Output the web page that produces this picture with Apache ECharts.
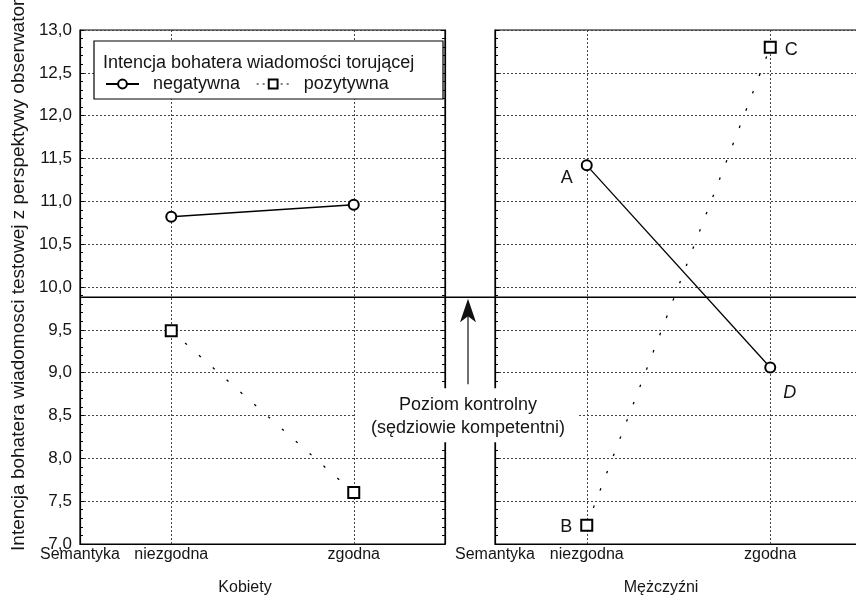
<!DOCTYPE html>
<html><head><meta charset="utf-8">
<script src="https://cdn.jsdelivr.net/npm/echarts@6/dist/echarts.min.js"></script>
<style>html,body{margin:0;padding:0;background:#fff}#c{width:856px;height:596px}</style>
</head><body><div id="c"></div>
<script>
// ---- data ----
const categories = ['niezgodna', 'zgodna'];
const axisStartLabel = 'Semantyka';
const panelNames = ['Kobiety', 'Mężczyźni'];
const seriesNames = ['negatywna', 'pozytywna'];
const legendTitle = 'Intencja bohatera wiadomości torującej';
const kobietyNegatywna = [10.82, 10.96];
const kobietyPozytywna = [9.49, 7.60];
const mezczyzniNegatywna = [11.42, 9.06];
const mezczyzniPozytywna = [7.22, 12.80];
const mezczyzniNegLabels = ['A', 'D'];
const mezczyzniPozLabels = ['B', 'C'];
const controlLevel = 9.88;
const controlLabel = ['Poziom kontrolny', '(sędziowie kompetentni)'];
const yTitle = 'Intencja bohatera wiadomosci testowej z perspektywy obserwatora';
const yMin = 7, yMax = 13, yStep = 0.5;

// ---- chart ----
const FONT = '"Liberation Sans", Arial, sans-serif';
const TXT = '#151515';
const xSlots = [axisStartLabel, categories[0], 'mid', categories[1], 'end'];
const gridLine = { color: '#444', width: 1, type: [2, 2] };

function xAxisFor(gi, name) {
  return {
    gridIndex: gi, type: 'category', data: xSlots, boundaryGap: false,
    axisLine: { lineStyle: { color: '#000', width: 1.2 } },
    axisTick: { show: false },
    axisLabel: { interval: 0, margin: 3, fontSize: 16, fontFamily: FONT, color: TXT,
      formatter: v => (v === 'mid' || v === 'end') ? '' : v },
    splitLine: { show: true, interval: (i, v) => categories.includes(v), lineStyle: gridLine },
    name: name, nameLocation: 'middle', nameGap: 36,
    nameTextStyle: { fontSize: 16, fontFamily: FONT, color: TXT, padding: [0, 35, 0, 0] }
  };
}
function yAxisFor(gi, pos, labels, split) {
  return {
    gridIndex: gi, type: 'value', position: pos, min: yMin, max: yMax, interval: yStep,
    axisLine: { show: true, lineStyle: { color: '#000', width: 1.2 } },
    axisTick: { show: true, inside: true, length: 4, lineStyle: { color: '#000' } },
    minorTick: { show: true, splitNumber: 5, length: 3, lineStyle: { color: '#000' } },
    axisLabel: { show: labels, margin: 8, fontSize: 17, fontFamily: FONT, color: TXT,
      formatter: v => v.toFixed(1).replace('.', ',') },
    splitLine: { show: split, lineStyle: gridLine }
  };
}
function pts(vals) { return categories.map((c, i) => [c, vals[i]]); }
function labeled(vals, labels, placements) {
  return categories.map((c, i) => ({
    value: [c, vals[i]],
    label: Object.assign({ show: true, formatter: labels[i], fontSize: 18, fontFamily: FONT, color: TXT }, placements[i])
  }));
}
const negStyle = {
  type: 'line', symbol: 'emptyCircle', symbolSize: 10,
  itemStyle: { color: '#000', borderWidth: 1.2 },
  lineStyle: { color: '#000', width: 1.3, type: 'solid' }, z: 3
};
const pozStyle = {
  type: 'line', symbol: 'emptyRect', symbolSize: 11,
  itemStyle: { color: '#000', borderWidth: 1.2 },
  lineStyle: { color: '#000', width: 1.3, type: [2.5, 16] }, z: 3
};

const chart = echarts.init(document.getElementById('c'), null, { renderer: 'canvas' });
chart.setOption({
  backgroundColor: '#fff',
  animation: false,
  grid: [
    { left: 80, top: 30, width: 365, height: 514, show: true, borderColor: '#000', borderWidth: 1.2, outerBoundsMode: 'none' },
    { left: 495, top: 30, width: 367, height: 514, show: true, borderColor: '#000', borderWidth: 1.2, outerBoundsMode: 'none' },
    { left: 80, top: 30, right: 0, height: 514, outerBoundsMode: 'none' }
  ],
  xAxis: [
    xAxisFor(0, panelNames[0]),
    xAxisFor(1, panelNames[1]),
    { gridIndex: 2, type: 'value', min: 0, max: 1, show: false }
  ],
  yAxis: [
    yAxisFor(0, 'left', true, true),
    yAxisFor(0, 'right', false, false),
    yAxisFor(1, 'left', false, true),
    { gridIndex: 2, type: 'value', min: yMin, max: yMax, show: false }
  ],
  legend: {
    data: [
      { name: seriesNames[0] },
      { name: seriesNames[1], lineStyle: { type: [2, 4], width: 1.2 } }
    ],
    left: 100, top: 70, z: 8, itemWidth: 33, itemHeight: 11, itemGap: 16,
    textStyle: { fontSize: 18, fontFamily: FONT, color: TXT, padding: [0, 0, 0, 9] }
  },
  series: [
    Object.assign({ name: seriesNames[0], xAxisIndex: 0, yAxisIndex: 0, data: pts(kobietyNegatywna) }, negStyle),
    Object.assign({ name: seriesNames[1], xAxisIndex: 0, yAxisIndex: 0, data: pts(kobietyPozytywna) }, pozStyle),
    Object.assign({ name: seriesNames[0], xAxisIndex: 1, yAxisIndex: 2,
      data: labeled(mezczyzniNegatywna, mezczyzniNegLabels, [
        { position: 'left', distance: 8, offset: [0, 13] },
        { position: 'right', distance: 7, offset: [0, 25], fontStyle: 'italic' }]) }, negStyle),
    Object.assign({ name: seriesNames[1], xAxisIndex: 1, yAxisIndex: 2,
      data: labeled(mezczyzniPozytywna, mezczyzniPozLabels, [
        { position: 'left', distance: 8, offset: [0, 2] },
        { position: 'right', distance: 8, offset: [0, 3] }]) }, pozStyle),
    { name: 'control', type: 'line', xAxisIndex: 2, yAxisIndex: 3, showSymbol: false, silent: true,
      data: [[0, controlLevel], [1, controlLevel]], lineStyle: { color: '#000', width: 1.4 }, z: 4 }
  ]
});

const yPix = chart.convertToPixel({ xAxisIndex: 2, yAxisIndex: 3 }, [0, controlLevel])[1];
const leftEdge = chart.convertToPixel({ xAxisIndex: 0, yAxisIndex: 0 }, ['end', yMin])[0];
const rightStart = chart.convertToPixel({ xAxisIndex: 1, yAxisIndex: 2 }, [axisStartLabel, yMin])[0];
const ax = (leftEdge + rightStart) / 2 - 2;

chart.setOption({
  graphic: [
    { type: 'rect', z: 6, shape: { x: 94, y: 41, width: 349, height: 58 },
      style: { fill: '#fff', stroke: '#000', lineWidth: 1.2 } },
    { type: 'text', z: 9, x: 103, y: 63,
      style: { text: legendTitle, font: '18px ' + FONT, fill: TXT, verticalAlign: 'middle' } },
    { type: 'text', z: 9, x: 19, y: 270, rotation: Math.PI / 2,
      style: { text: yTitle, font: '19px ' + FONT, fill: TXT, align: 'center', verticalAlign: 'middle' } },
    { type: 'polygon', z: 10, shape: { points: [[ax, yPix + 1.5], [ax - 8, yPix + 25], [ax, yPix + 19], [ax + 8, yPix + 25]] },
      style: { fill: '#111' } },
    { type: 'line', z: 10, shape: { x1: ax, y1: yPix + 18, x2: ax, y2: yPix + 87 },
      style: { stroke: '#111', lineWidth: 1.2 } },
    { type: 'rect', z: 10, shape: { x: ax - 112, y: yPix + 91, width: 223, height: 54 },
      style: { fill: '#fff' } },
    { type: 'text', z: 11, x: ax, y: yPix + 119,
      style: { text: controlLabel.join('\n'), font: '18px ' + FONT, fill: TXT, align: 'center',
        verticalAlign: 'middle', lineHeight: 23 } }
  ]
});
</script>
</body></html>
